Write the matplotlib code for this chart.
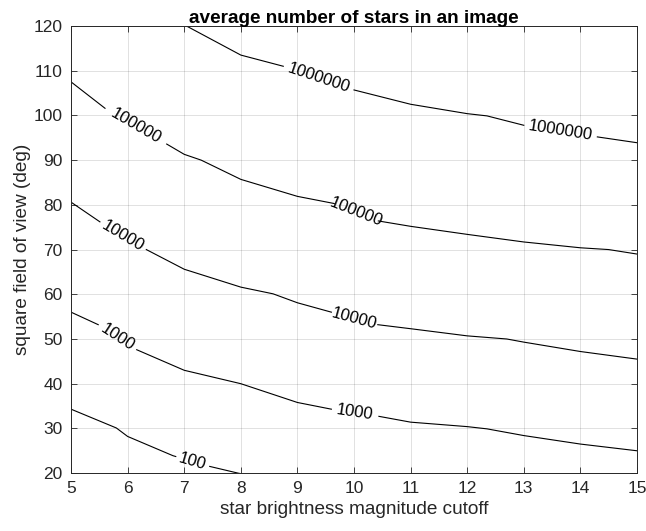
import numpy as np
import matplotlib
matplotlib.use('Agg')
import matplotlib.pyplot as plt

plt.rcParams['font.family'] = ['Liberation Sans', 'DejaVu Sans']

# contour levels (average number of stars per image)
levels = [100, 1000, 10000, 100000, 1000000]

# vertices of each contour: magnitude cutoff vs square FOV (deg)
mag_100 = [5.0, 5.8, 6.0, 6.8, 7.45, 7.95, 8.2]
fov_100 = [34.3, 30.1, 28.2, 23.9, 21.5, 20.0, 19.4]

mag_1e3 = [5.0, 5.48, 6.16, 7.0, 8.0, 9.0, 9.6, 10.44, 11.0, 12.0, 12.35, 13.0, 14.0, 15.0]
fov_1e3 = [56.0, 53.2, 47.6, 43.0, 40.0, 35.8, 34.3, 32.7, 31.4, 30.4, 29.9, 28.4, 26.5, 25.0]

mag_1e4 = [5.0, 5.51, 6.33, 7.0, 8.0, 8.57, 9.0, 9.6, 10.42, 11.0, 12.0, 12.7, 13.0, 14.0, 15.0]
fov_1e4 = [80.6, 76.2, 70.0, 65.6, 61.6, 60.1, 58.1, 56.0, 53.2, 52.3, 50.7, 50.0, 49.3, 47.2, 45.5]

mag_1e5 = [5.0, 5.6, 6.69, 7.0, 7.3, 8.0, 9.0, 9.65, 10.43, 11.0, 12.0, 13.0, 14.0, 14.5, 15.0]
fov_1e5 = [107.5, 101.6, 93.6, 91.3, 90.0, 85.7, 81.9, 80.3, 76.4, 75.2, 73.4, 71.7, 70.4, 70.0, 69.0]

mag_1e6 = [7.04, 8.0, 8.75, 10.0, 11.0, 12.0, 12.35, 13.0, 14.3, 15.0]
fov_1e6 = [120.0, 113.5, 111.0, 105.7, 102.5, 100.4, 99.9, 97.8, 95.2, 93.9]

contours = [(mag_100, fov_100), (mag_1e3, fov_1e3), (mag_1e4, fov_1e4),
            (mag_1e5, fov_1e5), (mag_1e6, fov_1e6)]

# where the inline labels sit (start/end magnitude of the gap in the line)
label_spans = [
    [(6.85, 7.45)],
    [(5.48, 6.16), (9.6, 10.44)],
    [(5.51, 6.33), (9.6, 10.42)],
    [(5.6, 6.69), (9.65, 10.43)],
    [(8.75, 10.0), (13.0, 14.3)],
]

fig = plt.figure(figsize=(6.46, 5.31), dpi=100)
ax = fig.add_axes([0.110, 0.109, 0.876, 0.842])

dark = '#262626'
for lev, (mx, fy), spans in zip(levels, contours, label_spans):
    mx = np.asarray(mx)
    fy = np.asarray(fy)
    # split the polyline at each label gap
    cuts = [mx[0]]
    for a, b in spans:
        cuts += [a, b]
    cuts.append(mx[-1])
    for i in range(0, len(cuts), 2):
        lo, hi = cuts[i], cuts[i + 1]
        inside = (mx > lo) & (mx < hi)
        xs = np.concatenate([[lo], mx[inside], [hi]])
        ys = np.interp(xs, mx, fy)
        ax.plot(xs, ys, color='k', lw=0.8, clip_on=True)
    for a, b in spans:
        ya, yb = np.interp([a, b], mx, fy)
        ang = np.degrees(np.arctan2(yb - ya, b - a))
        ax.text((a + b) / 2, (ya + yb) / 2, f'{lev}', rotation=ang,
                transform_rotates_text=True, rotation_mode='anchor',
                ha='center', va='center', fontsize=12, color='k')

ax.set_xlim(5, 15)
ax.set_ylim(20, 120)
ax.set_xticks(np.arange(5, 16, 1))
ax.set_yticks(np.arange(20, 121, 10))
ax.grid(True, color='#000000', alpha=0.12, lw=0.7)
ax.tick_params(direction='in', top=True, right=True, labelsize=12.5,
               colors=dark, length=4, width=0.6, pad=6)
for sp in ax.spines.values():
    sp.set_color(dark)
    sp.set_linewidth(0.7)

ax.set_xlabel('star brightness magnitude cutoff', fontsize=13.7, color=dark, labelpad=3)
ax.set_ylabel('square field of view (deg)', fontsize=13.7, color=dark, labelpad=2)
ax.set_title('average number of stars in an image', fontsize=13.7, fontweight='bold', pad=2)

fig.savefig('out.png', dpi=100)
